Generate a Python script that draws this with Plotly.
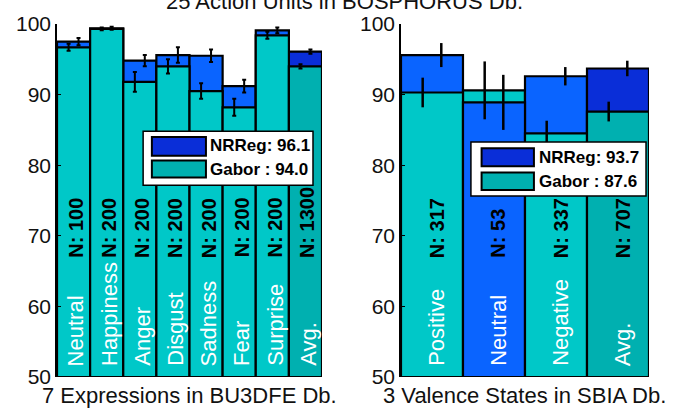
import plotly.graph_objects as go
from plotly.subplots import make_subplots

# ---- BU3DFE expressions ----
expr_cats = ["Neutral", "Happiness", "Anger", "Disgust", "Sadness", "Fear", "Surprise", "Avg."]
expr_n = [100, 200, 200, 200, 200, 200, 200, 1300]
expr_nrreg = [97.5, 99.4, 94.8, 95.6, 95.5, 91.2, 99.1, 96.1]
expr_nrreg_err = [0.5, 0.2, 0.8, 1.1, 0.9, 0.9, 0.4, 0.3]
expr_gabor = [96.7, 99.3, 91.8, 94.0, 90.5, 88.2, 98.4, 94.0]
expr_gabor_err = [0.5, 0.2, 1.4, 1.0, 1.1, 1.2, 0.5, 0.3]

# ---- SBIA valence states ----
val_cats = ["Positive", "Neutral", "Negative", "Avg."]
val_n = [317, 53, 337, 707]
val_nrreg = [95.6, 88.9, 92.6, 93.7]
val_nrreg_err = [1.7, 3.9, 1.3, 1.1]
val_gabor = [90.3, 90.6, 84.5, 87.6]
val_gabor_err = [2.1, 4.1, 1.8, 1.4]

y_ticks = [50, 60, 70, 80, 90, 100]

NRREG_C, NRREG_AVG = "#0A64FF", "#0A2ED8"
GABOR_C, GABOR_AVG = "#00C8C8", "#00B0B0"
FONT = "Liberation Sans, Arial, sans-serif"

fig = make_subplots(rows=1, cols=2, horizontal_spacing=0.1334,
                    column_widths=[265, 248])


def colour(method, cat):
    avg = cat == "Avg."
    if method == "nrreg":
        return NRREG_AVG if avg else NRREG_C
    return GABOR_AVG if avg else GABOR_C


def add_panel(col, cats, ns, nr, nr_err, gb, gb_err, cap, thick):
    xs = list(range(len(cats)))
    # taller bar of each pair goes behind, shorter one in front
    back_y, back_c, front_y, front_c = [], [], [], []
    for c, a, b in zip(cats, nr, gb):
        if a >= b:
            back_y.append(a); back_c.append(colour("nrreg", c))
            front_y.append(b); front_c.append(colour("gabor", c))
        else:
            back_y.append(b); back_c.append(colour("gabor", c))
            front_y.append(a); front_c.append(colour("nrreg", c))
    for ys, cs in ((back_y, back_c), (front_y, front_c)):
        fig.add_trace(go.Bar(
            x=xs, y=[v - 50 for v in ys], base=50, width=1.0,
            marker=dict(color=cs, line=dict(color="black", width=2.2)),
            showlegend=False, hoverinfo="skip"), row=1, col=col)
    # error bars: Gabor left of centre, NRReg right of centre
    for vals, errs, off in ((gb, gb_err, -0.15), (nr, nr_err, 0.15)):
        fig.add_trace(go.Scatter(
            x=[x + off for x in xs], y=vals, mode="markers",
            marker=dict(size=1, color="rgba(0,0,0,0)"),
            error_y=dict(type="data", array=errs, visible=True,
                         color="black", thickness=thick, width=cap),
            showlegend=False, hoverinfo="skip"), row=1, col=col)
    xr = "x" if col == 1 else "x2"
    yr = "y" if col == 1 else "y2"
    for x, c, n in zip(xs, cats, ns):
        fig.add_annotation(x=x + 0.07, y=50, xref=xr, yref=yr, text=c,
                           textangle=-90, showarrow=False, yanchor="bottom",
                           yshift=9, font=dict(family=FONT, size=22, color="white"))
        fig.add_annotation(x=x + 0.07, y=66.6, xref=xr, yref=yr,
                           text="<b>N: %d</b>" % n, textangle=-90,
                           showarrow=False, yanchor="bottom",
                           font=dict(family=FONT, size=20, color="black"))


def add_legend(col, nr_avg, gb_avg, box, sw_x, nr_sw, gb_sw, txt_x, nr_ty, gb_ty):
    xd = "x domain" if col == 1 else "x2 domain"
    yd = "y domain" if col == 1 else "y2 domain"
    fig.add_shape(type="rect", xref=xd, yref=yd, x0=box[0], x1=box[1],
                  y0=box[2], y1=box[3], fillcolor="white",
                  line=dict(color="black", width=1.5))
    for (y0, y1), c in ((nr_sw, NRREG_AVG), (gb_sw, GABOR_AVG)):
        fig.add_shape(type="rect", xref=xd, yref=yd, x0=sw_x[0], x1=sw_x[1],
                      y0=y0, y1=y1, fillcolor=c, line=dict(color="black", width=2))
    for ty, label in ((nr_ty, "NRReg: %.1f" % nr_avg), (gb_ty, "Gabor : %.1f" % gb_avg)):
        fig.add_annotation(xref=xd, yref=yd, x=txt_x, y=ty, text="<b>%s</b>" % label,
                           showarrow=False, xanchor="left", yanchor="middle",
                           font=dict(family=FONT, size=17, color="black"))


add_panel(1, expr_cats, expr_n, expr_nrreg, expr_nrreg_err, expr_gabor, expr_gabor_err, 2, 2)
add_panel(2, val_cats, val_n, val_nrreg, val_nrreg_err, val_gabor, val_gabor_err, 0, 2.5)

add_legend(1, expr_nrreg[-1], expr_gabor[-1], (0.325, 0.966, 0.543, 0.696),
           (0.358, 0.562), (0.627, 0.680), (0.565, 0.613), 0.570, 0.655, 0.589)
add_legend(2, val_nrreg[-1], val_gabor[-1], (0.282, 0.988, 0.513, 0.666),
           (0.325, 0.536), (0.597, 0.648), (0.530, 0.579), 0.550, 0.621, 0.553)

for col, title in ((1, "7 Expressions in BU3DFE Db."), (2, "3 Valence States in SBIA Db.")):
    xd = "x domain" if col == 1 else "x2 domain"
    fig.add_annotation(xref=xd, yref="paper", x=0.5, y=0, yanchor="top", yshift=-4,
                       text=title, showarrow=False,
                       font=dict(family=FONT, size=22, color="#111"))

fig.add_annotation(xref="paper", yref="paper", x=0.486, y=1, yanchor="middle", yshift=23,
                   text="25 Action Units in BOSPHORUS Db.", showarrow=False,
                   font=dict(family=FONT, size=22, color="#111"))

fig.update_xaxes(showticklabels=False, showgrid=False, zeroline=False, showline=False, ticks="")
fig.update_xaxes(range=[-0.5, len(expr_cats) - 0.5], row=1, col=1)
fig.update_xaxes(range=[-0.5, len(val_cats) - 0.5], row=1, col=2)
fig.update_yaxes(range=[50, 100], tickvals=y_ticks, showgrid=False, zeroline=False,
                 showline=True, linecolor="black", linewidth=1.5, ticks="inside",
                 ticklen=4, tickcolor="black",
                 tickfont=dict(family=FONT, size=21, color="#111"))

fig.update_layout(width=685, height=409, barmode="overlay",
                  margin=dict(l=57, r=36, t=18, b=32),
                  paper_bgcolor="white", plot_bgcolor="white", showlegend=False)

fig.write_html("out.html")
